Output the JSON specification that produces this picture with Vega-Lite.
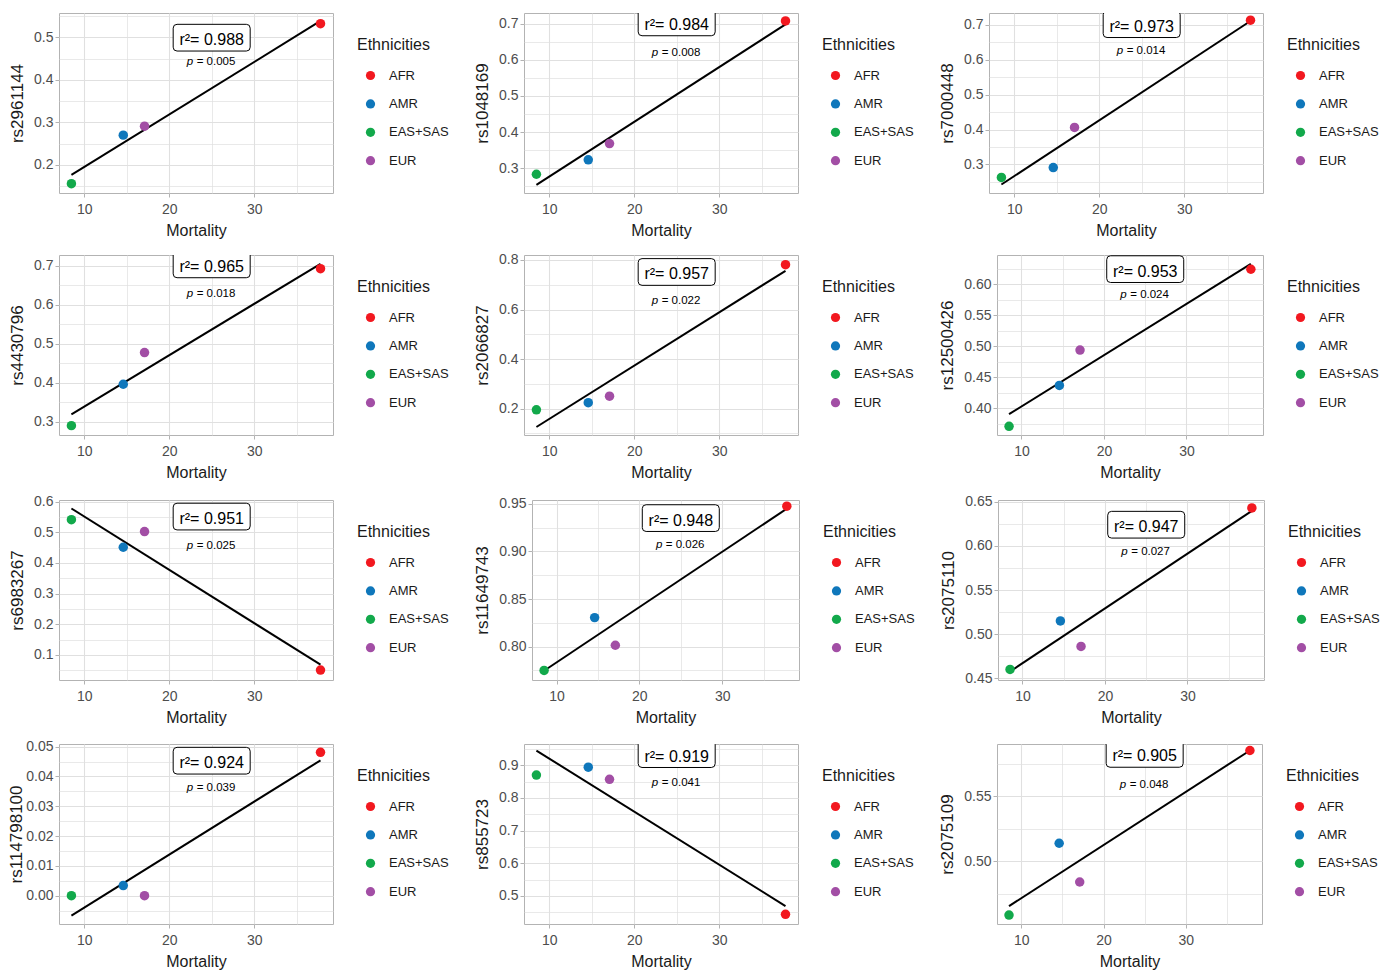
{
"$schema": "https://vega.github.io/schema/vega-lite/v6.json",
"padding": {"left": 7, "top": 8, "right": 2, "bottom": 0},
"datasets": {
"pts": [
{"snp":"rs2961144","eth":"AFR","mortality":37.8,"freq":0.532},{"snp":"rs2961144","eth":"AMR","mortality":14.6,"freq":0.270},{"snp":"rs2961144","eth":"EAS+SAS","mortality":8.5,"freq":0.156},{"snp":"rs2961144","eth":"EUR","mortality":17.1,"freq":0.291},
{"snp":"rs1048169","eth":"AFR","mortality":37.8,"freq":0.708},{"snp":"rs1048169","eth":"AMR","mortality":14.6,"freq":0.323},{"snp":"rs1048169","eth":"EAS+SAS","mortality":8.5,"freq":0.283},{"snp":"rs1048169","eth":"EUR","mortality":17.1,"freq":0.368},
{"snp":"rs7000448","eth":"AFR","mortality":37.8,"freq":0.7135},{"snp":"rs7000448","eth":"AMR","mortality":14.6,"freq":0.291},{"snp":"rs7000448","eth":"EAS+SAS","mortality":8.5,"freq":0.2625},{"snp":"rs7000448","eth":"EUR","mortality":17.1,"freq":0.406},
{"snp":"rs4430796","eth":"AFR","mortality":37.8,"freq":0.692},{"snp":"rs4430796","eth":"AMR","mortality":14.6,"freq":0.396},{"snp":"rs4430796","eth":"EAS+SAS","mortality":8.5,"freq":0.290},{"snp":"rs4430796","eth":"EUR","mortality":17.1,"freq":0.477},
{"snp":"rs2066827","eth":"AFR","mortality":37.8,"freq":0.781},{"snp":"rs2066827","eth":"AMR","mortality":14.6,"freq":0.224},{"snp":"rs2066827","eth":"EAS+SAS","mortality":8.5,"freq":0.195},{"snp":"rs2066827","eth":"EUR","mortality":17.1,"freq":0.250},
{"snp":"rs12500426","eth":"AFR","mortality":37.8,"freq":0.624},{"snp":"rs12500426","eth":"AMR","mortality":14.6,"freq":0.4365},{"snp":"rs12500426","eth":"EAS+SAS","mortality":8.5,"freq":0.3705},{"snp":"rs12500426","eth":"EUR","mortality":17.1,"freq":0.4935},
{"snp":"rs6983267","eth":"AFR","mortality":37.8,"freq":0.051},{"snp":"rs6983267","eth":"AMR","mortality":14.6,"freq":0.451},{"snp":"rs6983267","eth":"EAS+SAS","mortality":8.5,"freq":0.541},{"snp":"rs6983267","eth":"EUR","mortality":17.1,"freq":0.502},
{"snp":"rs11649743","eth":"AFR","mortality":37.8,"freq":0.9475},{"snp":"rs11649743","eth":"AMR","mortality":14.6,"freq":0.8305},{"snp":"rs11649743","eth":"EAS+SAS","mortality":8.5,"freq":0.775},{"snp":"rs11649743","eth":"EUR","mortality":17.1,"freq":0.8015},
{"snp":"rs2075110","eth":"AFR","mortality":37.8,"freq":0.643},{"snp":"rs2075110","eth":"AMR","mortality":14.6,"freq":0.515},{"snp":"rs2075110","eth":"EAS+SAS","mortality":8.5,"freq":0.460},{"snp":"rs2075110","eth":"EUR","mortality":17.1,"freq":0.486},
{"snp":"rs114798100","eth":"AFR","mortality":37.8,"freq":0.0481},{"snp":"rs114798100","eth":"AMR","mortality":14.6,"freq":0.0034},{"snp":"rs114798100","eth":"EAS+SAS","mortality":8.5,"freq":0.0},{"snp":"rs114798100","eth":"EUR","mortality":17.1,"freq":0.0},
{"snp":"rs855723","eth":"AFR","mortality":37.8,"freq":0.4436},{"snp":"rs855723","eth":"AMR","mortality":14.6,"freq":0.894},{"snp":"rs855723","eth":"EAS+SAS","mortality":8.5,"freq":0.870},{"snp":"rs855723","eth":"EUR","mortality":17.1,"freq":0.857},
{"snp":"rs2075109","eth":"AFR","mortality":37.8,"freq":0.585},{"snp":"rs2075109","eth":"AMR","mortality":14.6,"freq":0.5137},{"snp":"rs2075109","eth":"EAS+SAS","mortality":8.5,"freq":0.4585},{"snp":"rs2075109","eth":"EUR","mortality":17.1,"freq":0.4839}
],
"ann": [
{"snp":"rs2961144","r2":"r²= 0.988","p":"= 0.005"},
{"snp":"rs1048169","r2":"r²= 0.984","p":"= 0.008"},
{"snp":"rs7000448","r2":"r²= 0.973","p":"= 0.014"},
{"snp":"rs4430796","r2":"r²= 0.965","p":"= 0.018"},
{"snp":"rs2066827","r2":"r²= 0.957","p":"= 0.022"},
{"snp":"rs12500426","r2":"r²= 0.953","p":"= 0.024"},
{"snp":"rs6983267","r2":"r²= 0.951","p":"= 0.025"},
{"snp":"rs11649743","r2":"r²= 0.948","p":"= 0.026"},
{"snp":"rs2075110","r2":"r²= 0.947","p":"= 0.027"},
{"snp":"rs114798100","r2":"r²= 0.924","p":"= 0.039"},
{"snp":"rs855723","r2":"r²= 0.919","p":"= 0.041"},
{"snp":"rs2075109","r2":"r²= 0.905","p":"= 0.048"}
]
},
"spacing": 13,
"resolve": {"scale": {"color": "independent"}, "legend": {"color": "independent"}},
"vconcat": [
{"spacing": 23, "resolve": {"scale": {"color": "independent"}, "legend": {"color": "independent"}}, "hconcat": [
{"width": 274, "height": 180, "layer": [
 {"data": {"name": "pts"}, "transform": [{"filter": "datum.snp === 'rs2961144'"}, {"regression": "freq", "on": "mortality"}], "mark": {"type": "line", "color": "black", "strokeWidth": 2},
  "encoding": {"x": {"field": "mortality", "type": "quantitative", "title": "Mortality", "scale": {"domain": [7.04, 39.27], "nice": false, "zero": false}, "axis": {"labelOverlap": false, "tickCount": 100, "format": "d", "values": [10,15,20,25,30,35], "labelExpr": "datum.value % 10 !== 0 ? '' : datum.label", "gridWidth": {"condition": {"test": "datum.value % 10 !== 0", "value": 0.7}, "value": 1.1}, "tickOpacity": {"condition": {"test": "datum.value % 10 !== 0", "value": 0}, "value": 1}}},
   "y": {"field": "freq", "type": "quantitative", "title": "rs2961144", "scale": {"domain": [0.134, 0.557], "nice": false, "zero": false}, "axis": {"labelOverlap": false, "tickCount": 100, "values": [0.15,0.2,0.25,0.3,0.35,0.4,0.45,0.5,0.55], "format": ".1f", "labelExpr": "round(datum.value*100) % 10 !== 0 ? '' : datum.label", "gridWidth": {"condition": {"test": "round(datum.value*100) % 10 !== 0", "value": 0.7}, "value": 1.1}, "tickOpacity": {"condition": {"test": "round(datum.value*100) % 10 !== 0", "value": 0}, "value": 1}}}}},
 {"data": {"name": "pts"}, "transform": [{"filter": "datum.snp === 'rs2961144'"}], "mark": {"type": "point", "filled": true, "size": 90, "opacity": 1},
  "encoding": {"x": {"field": "mortality", "type": "quantitative", "title": "Mortality"}, "y": {"field": "freq", "type": "quantitative", "title": "rs2961144"},
   "color": {"field": "eth", "type": "nominal", "title": "Ethnicities", "scale": {"domain": ["AFR","AMR","EAS+SAS","EUR"], "range": ["#F2181F","#0F77BB","#12A94B","#A24EA5"]}, "legend": {"orient": "none", "legendX": 298, "legendY": 24}}}},
 {"data": {"name": "ann"}, "transform": [{"filter": "datum.snp === 'rs2961144'"}], "mark": {"type": "point", "shape": "M-0.9,-0.347L0.9,-0.347Q1,-0.347 1,-0.247L1,0.247Q1,0.347 0.9,0.347L-0.9,0.347Q-1,0.347 -1,0.247L-1,-0.247Q-1,-0.347 -0.9,-0.347Z", "size": 5929, "filled": true, "fill": "white", "stroke": "black", "strokeWidth": 1, "opacity": 1, "clip": true},
  "encoding": {"x": {"datum": 25, "type": "quantitative", "title": "Mortality"}, "y": {"datum": 0.499, "type": "quantitative", "title": "rs2961144"}}},
 {"data": {"name": "ann"}, "transform": [{"filter": "datum.snp === 'rs2961144'"}], "mark": {"type": "text", "fontSize": 16, "dy": 2.5, "color": "black"},
  "encoding": {"x": {"datum": 25, "type": "quantitative", "title": "Mortality"}, "y": {"datum": 0.499, "type": "quantitative", "title": "rs2961144"}, "text": {"field": "r2"}}},
 {"data": {"name": "ann"}, "transform": [{"filter": "datum.snp === 'rs2961144'"}], "mark": {"type": "text", "text": "p", "fontStyle": "italic", "fontSize": 11.5, "align": "right", "dx": -18.5, "color": "black"},
  "encoding": {"x": {"datum": 25, "type": "quantitative", "title": "Mortality"}, "y": {"datum": 0.441, "type": "quantitative", "title": "rs2961144"}}},
 {"data": {"name": "ann"}, "transform": [{"filter": "datum.snp === 'rs2961144'"}], "mark": {"type": "text", "fontSize": 11.5, "align": "left", "dx": -15, "color": "black"},
  "encoding": {"x": {"datum": 25, "type": "quantitative", "title": "Mortality"}, "y": {"datum": 0.441, "type": "quantitative", "title": "rs2961144"}, "text": {"field": "p"}}}
]},
{"width": 274, "height": 180, "layer": [
 {"data": {"name": "pts"}, "transform": [{"filter": "datum.snp === 'rs1048169'"}, {"regression": "freq", "on": "mortality"}], "mark": {"type": "line", "color": "black", "strokeWidth": 2},
  "encoding": {"x": {"field": "mortality", "type": "quantitative", "title": "Mortality", "scale": {"domain": [7.04, 39.27], "nice": false, "zero": false}, "axis": {"labelOverlap": false, "tickCount": 100, "format": "d", "values": [10,15,20,25,30,35], "labelExpr": "datum.value % 10 !== 0 ? '' : datum.label", "gridWidth": {"condition": {"test": "datum.value % 10 !== 0", "value": 0.7}, "value": 1.1}, "tickOpacity": {"condition": {"test": "datum.value % 10 !== 0", "value": 0}, "value": 1}}},
   "y": {"field": "freq", "type": "quantitative", "title": "rs1048169", "scale": {"domain": [0.231, 0.730], "nice": false, "zero": false}, "axis": {"labelOverlap": false, "tickCount": 100, "values": [0.25,0.3,0.35,0.4,0.45,0.5,0.55,0.6,0.65,0.7], "format": ".1f", "labelExpr": "round(datum.value*100) % 10 !== 0 ? '' : datum.label", "gridWidth": {"condition": {"test": "round(datum.value*100) % 10 !== 0", "value": 0.7}, "value": 1.1}, "tickOpacity": {"condition": {"test": "round(datum.value*100) % 10 !== 0", "value": 0}, "value": 1}}}}},
 {"data": {"name": "pts"}, "transform": [{"filter": "datum.snp === 'rs1048169'"}], "mark": {"type": "point", "filled": true, "size": 90, "opacity": 1},
  "encoding": {"x": {"field": "mortality", "type": "quantitative", "title": "Mortality"}, "y": {"field": "freq", "type": "quantitative", "title": "rs1048169"},
   "color": {"field": "eth", "type": "nominal", "title": "Ethnicities", "scale": {"domain": ["AFR","AMR","EAS+SAS","EUR"], "range": ["#F2181F","#0F77BB","#12A94B","#A24EA5"]}, "legend": {"orient": "none", "legendX": 298, "legendY": 24}}}},
 {"data": {"name": "ann"}, "transform": [{"filter": "datum.snp === 'rs1048169'"}], "mark": {"type": "point", "shape": "M-0.9,-0.347L0.9,-0.347Q1,-0.347 1,-0.247L1,0.247Q1,0.347 0.9,0.347L-0.9,0.347Q-1,0.347 -1,0.247L-1,-0.247Q-1,-0.347 -0.9,-0.347Z", "size": 5929, "filled": true, "fill": "white", "stroke": "black", "strokeWidth": 1, "opacity": 1, "clip": true},
  "encoding": {"x": {"datum": 25, "type": "quantitative", "title": "Mortality"}, "y": {"datum": 0.704, "type": "quantitative", "title": "rs1048169"}}},
 {"data": {"name": "ann"}, "transform": [{"filter": "datum.snp === 'rs1048169'"}], "mark": {"type": "text", "fontSize": 16, "dy": 2.5, "color": "black"},
  "encoding": {"x": {"datum": 25, "type": "quantitative", "title": "Mortality"}, "y": {"datum": 0.704, "type": "quantitative", "title": "rs1048169"}, "text": {"field": "r2"}}},
 {"data": {"name": "ann"}, "transform": [{"filter": "datum.snp === 'rs1048169'"}], "mark": {"type": "text", "text": "p", "fontStyle": "italic", "fontSize": 11.5, "align": "right", "dx": -18.5, "color": "black"},
  "encoding": {"x": {"datum": 25, "type": "quantitative", "title": "Mortality"}, "y": {"datum": 0.619, "type": "quantitative", "title": "rs1048169"}}},
 {"data": {"name": "ann"}, "transform": [{"filter": "datum.snp === 'rs1048169'"}], "mark": {"type": "text", "fontSize": 11.5, "align": "left", "dx": -15, "color": "black"},
  "encoding": {"x": {"datum": 25, "type": "quantitative", "title": "Mortality"}, "y": {"datum": 0.619, "type": "quantitative", "title": "rs1048169"}, "text": {"field": "p"}}}
]},
{"width": 274, "height": 180, "layer": [
 {"data": {"name": "pts"}, "transform": [{"filter": "datum.snp === 'rs7000448'"}, {"regression": "freq", "on": "mortality"}], "mark": {"type": "line", "color": "black", "strokeWidth": 2},
  "encoding": {"x": {"field": "mortality", "type": "quantitative", "title": "Mortality", "scale": {"domain": [7.04, 39.27], "nice": false, "zero": false}, "axis": {"labelOverlap": false, "tickCount": 100, "format": "d", "values": [10,15,20,25,30,35], "labelExpr": "datum.value % 10 !== 0 ? '' : datum.label", "gridWidth": {"condition": {"test": "datum.value % 10 !== 0", "value": 0.7}, "value": 1.1}, "tickOpacity": {"condition": {"test": "datum.value % 10 !== 0", "value": 0}, "value": 1}}},
   "y": {"field": "freq", "type": "quantitative", "title": "rs7000448", "scale": {"domain": [0.218, 0.734], "nice": false, "zero": false}, "axis": {"labelOverlap": false, "tickCount": 100, "values": [0.25,0.3,0.35,0.4,0.45,0.5,0.55,0.6,0.65,0.7], "format": ".1f", "labelExpr": "round(datum.value*100) % 10 !== 0 ? '' : datum.label", "gridWidth": {"condition": {"test": "round(datum.value*100) % 10 !== 0", "value": 0.7}, "value": 1.1}, "tickOpacity": {"condition": {"test": "round(datum.value*100) % 10 !== 0", "value": 0}, "value": 1}}}}},
 {"data": {"name": "pts"}, "transform": [{"filter": "datum.snp === 'rs7000448'"}], "mark": {"type": "point", "filled": true, "size": 90, "opacity": 1},
  "encoding": {"x": {"field": "mortality", "type": "quantitative", "title": "Mortality"}, "y": {"field": "freq", "type": "quantitative", "title": "rs7000448"},
   "color": {"field": "eth", "type": "nominal", "title": "Ethnicities", "scale": {"domain": ["AFR","AMR","EAS+SAS","EUR"], "range": ["#F2181F","#0F77BB","#12A94B","#A24EA5"]}, "legend": {"orient": "none", "legendX": 298, "legendY": 24}}}},
 {"data": {"name": "ann"}, "transform": [{"filter": "datum.snp === 'rs7000448'"}], "mark": {"type": "point", "shape": "M-0.9,-0.347L0.9,-0.347Q1,-0.347 1,-0.247L1,0.247Q1,0.347 0.9,0.347L-0.9,0.347Q-1,0.347 -1,0.247L-1,-0.247Q-1,-0.347 -0.9,-0.347Z", "size": 5929, "filled": true, "fill": "white", "stroke": "black", "strokeWidth": 1, "opacity": 1, "clip": true},
  "encoding": {"x": {"datum": 25, "type": "quantitative", "title": "Mortality"}, "y": {"datum": 0.702, "type": "quantitative", "title": "rs7000448"}}},
 {"data": {"name": "ann"}, "transform": [{"filter": "datum.snp === 'rs7000448'"}], "mark": {"type": "text", "fontSize": 16, "dy": 2.5, "color": "black"},
  "encoding": {"x": {"datum": 25, "type": "quantitative", "title": "Mortality"}, "y": {"datum": 0.702, "type": "quantitative", "title": "rs7000448"}, "text": {"field": "r2"}}},
 {"data": {"name": "ann"}, "transform": [{"filter": "datum.snp === 'rs7000448'"}], "mark": {"type": "text", "text": "p", "fontStyle": "italic", "fontSize": 11.5, "align": "right", "dx": -18.5, "color": "black"},
  "encoding": {"x": {"datum": 25, "type": "quantitative", "title": "Mortality"}, "y": {"datum": 0.626, "type": "quantitative", "title": "rs7000448"}}},
 {"data": {"name": "ann"}, "transform": [{"filter": "datum.snp === 'rs7000448'"}], "mark": {"type": "text", "fontSize": 11.5, "align": "left", "dx": -15, "color": "black"},
  "encoding": {"x": {"datum": 25, "type": "quantitative", "title": "Mortality"}, "y": {"datum": 0.626, "type": "quantitative", "title": "rs7000448"}, "text": {"field": "p"}}}
]}
]},
{"spacing": 23, "resolve": {"scale": {"color": "independent"}, "legend": {"color": "independent"}}, "hconcat": [
{"width": 274, "height": 180, "layer": [
 {"data": {"name": "pts"}, "transform": [{"filter": "datum.snp === 'rs4430796'"}, {"regression": "freq", "on": "mortality"}], "mark": {"type": "line", "color": "black", "strokeWidth": 2},
  "encoding": {"x": {"field": "mortality", "type": "quantitative", "title": "Mortality", "scale": {"domain": [7.04, 39.27], "nice": false, "zero": false}, "axis": {"labelOverlap": false, "tickCount": 100, "format": "d", "values": [10,15,20,25,30,35], "labelExpr": "datum.value % 10 !== 0 ? '' : datum.label", "gridWidth": {"condition": {"test": "datum.value % 10 !== 0", "value": 0.7}, "value": 1.1}, "tickOpacity": {"condition": {"test": "datum.value % 10 !== 0", "value": 0}, "value": 1}}},
   "y": {"field": "freq", "type": "quantitative", "title": "rs4430796", "scale": {"domain": [0.266, 0.727], "nice": false, "zero": false}, "axis": {"labelOverlap": false, "tickCount": 100, "values": [0.3,0.35,0.4,0.45,0.5,0.55,0.6,0.65,0.7], "format": ".1f", "labelExpr": "round(datum.value*100) % 10 !== 0 ? '' : datum.label", "gridWidth": {"condition": {"test": "round(datum.value*100) % 10 !== 0", "value": 0.7}, "value": 1.1}, "tickOpacity": {"condition": {"test": "round(datum.value*100) % 10 !== 0", "value": 0}, "value": 1}}}}},
 {"data": {"name": "pts"}, "transform": [{"filter": "datum.snp === 'rs4430796'"}], "mark": {"type": "point", "filled": true, "size": 90, "opacity": 1},
  "encoding": {"x": {"field": "mortality", "type": "quantitative", "title": "Mortality"}, "y": {"field": "freq", "type": "quantitative", "title": "rs4430796"},
   "color": {"field": "eth", "type": "nominal", "title": "Ethnicities", "scale": {"domain": ["AFR","AMR","EAS+SAS","EUR"], "range": ["#F2181F","#0F77BB","#12A94B","#A24EA5"]}, "legend": {"orient": "none", "legendX": 298, "legendY": 24}}}},
 {"data": {"name": "ann"}, "transform": [{"filter": "datum.snp === 'rs4430796'"}], "mark": {"type": "point", "shape": "M-0.9,-0.347L0.9,-0.347Q1,-0.347 1,-0.247L1,0.247Q1,0.347 0.9,0.347L-0.9,0.347Q-1,0.347 -1,0.247L-1,-0.247Q-1,-0.347 -0.9,-0.347Z", "size": 5929, "filled": true, "fill": "white", "stroke": "black", "strokeWidth": 1, "opacity": 1, "clip": true},
  "encoding": {"x": {"datum": 25, "type": "quantitative", "title": "Mortality"}, "y": {"datum": 0.703, "type": "quantitative", "title": "rs4430796"}}},
 {"data": {"name": "ann"}, "transform": [{"filter": "datum.snp === 'rs4430796'"}], "mark": {"type": "text", "fontSize": 16, "dy": 2.5, "color": "black"},
  "encoding": {"x": {"datum": 25, "type": "quantitative", "title": "Mortality"}, "y": {"datum": 0.703, "type": "quantitative", "title": "rs4430796"}, "text": {"field": "r2"}}},
 {"data": {"name": "ann"}, "transform": [{"filter": "datum.snp === 'rs4430796'"}], "mark": {"type": "text", "text": "p", "fontStyle": "italic", "fontSize": 11.5, "align": "right", "dx": -18.5, "color": "black"},
  "encoding": {"x": {"datum": 25, "type": "quantitative", "title": "Mortality"}, "y": {"datum": 0.6265, "type": "quantitative", "title": "rs4430796"}}},
 {"data": {"name": "ann"}, "transform": [{"filter": "datum.snp === 'rs4430796'"}], "mark": {"type": "text", "fontSize": 11.5, "align": "left", "dx": -15, "color": "black"},
  "encoding": {"x": {"datum": 25, "type": "quantitative", "title": "Mortality"}, "y": {"datum": 0.6265, "type": "quantitative", "title": "rs4430796"}, "text": {"field": "p"}}}
]},
{"width": 274, "height": 180, "layer": [
 {"data": {"name": "pts"}, "transform": [{"filter": "datum.snp === 'rs2066827'"}, {"regression": "freq", "on": "mortality"}], "mark": {"type": "line", "color": "black", "strokeWidth": 2},
  "encoding": {"x": {"field": "mortality", "type": "quantitative", "title": "Mortality", "scale": {"domain": [7.04, 39.27], "nice": false, "zero": false}, "axis": {"labelOverlap": false, "tickCount": 100, "format": "d", "values": [10,15,20,25,30,35], "labelExpr": "datum.value % 10 !== 0 ? '' : datum.label", "gridWidth": {"condition": {"test": "datum.value % 10 !== 0", "value": 0.7}, "value": 1.1}, "tickOpacity": {"condition": {"test": "datum.value % 10 !== 0", "value": 0}, "value": 1}}},
   "y": {"field": "freq", "type": "quantitative", "title": "rs2066827", "scale": {"domain": [0.0935, 0.820], "nice": false, "zero": false}, "axis": {"labelOverlap": false, "tickCount": 100, "values": [0.1,0.2,0.3,0.4,0.5,0.6,0.7,0.8], "format": ".1f", "labelExpr": "round(datum.value*10) % 2 !== 0 ? '' : datum.label", "gridWidth": {"condition": {"test": "round(datum.value*10) % 2 !== 0", "value": 0.7}, "value": 1.1}, "tickOpacity": {"condition": {"test": "round(datum.value*10) % 2 !== 0", "value": 0}, "value": 1}}}}},
 {"data": {"name": "pts"}, "transform": [{"filter": "datum.snp === 'rs2066827'"}], "mark": {"type": "point", "filled": true, "size": 90, "opacity": 1},
  "encoding": {"x": {"field": "mortality", "type": "quantitative", "title": "Mortality"}, "y": {"field": "freq", "type": "quantitative", "title": "rs2066827"},
   "color": {"field": "eth", "type": "nominal", "title": "Ethnicities", "scale": {"domain": ["AFR","AMR","EAS+SAS","EUR"], "range": ["#F2181F","#0F77BB","#12A94B","#A24EA5"]}, "legend": {"orient": "none", "legendX": 298, "legendY": 24}}}},
 {"data": {"name": "ann"}, "transform": [{"filter": "datum.snp === 'rs2066827'"}], "mark": {"type": "point", "shape": "M-0.9,-0.347L0.9,-0.347Q1,-0.347 1,-0.247L1,0.247Q1,0.347 0.9,0.347L-0.9,0.347Q-1,0.347 -1,0.247L-1,-0.247Q-1,-0.347 -0.9,-0.347Z", "size": 5929, "filled": true, "fill": "white", "stroke": "black", "strokeWidth": 1, "opacity": 1, "clip": true},
  "encoding": {"x": {"datum": 25, "type": "quantitative", "title": "Mortality"}, "y": {"datum": 0.7515, "type": "quantitative", "title": "rs2066827"}}},
 {"data": {"name": "ann"}, "transform": [{"filter": "datum.snp === 'rs2066827'"}], "mark": {"type": "text", "fontSize": 16, "dy": 2.5, "color": "black"},
  "encoding": {"x": {"datum": 25, "type": "quantitative", "title": "Mortality"}, "y": {"datum": 0.7515, "type": "quantitative", "title": "rs2066827"}, "text": {"field": "r2"}}},
 {"data": {"name": "ann"}, "transform": [{"filter": "datum.snp === 'rs2066827'"}], "mark": {"type": "text", "text": "p", "fontStyle": "italic", "fontSize": 11.5, "align": "right", "dx": -18.5, "color": "black"},
  "encoding": {"x": {"datum": 25, "type": "quantitative", "title": "Mortality"}, "y": {"datum": 0.636, "type": "quantitative", "title": "rs2066827"}}},
 {"data": {"name": "ann"}, "transform": [{"filter": "datum.snp === 'rs2066827'"}], "mark": {"type": "text", "fontSize": 11.5, "align": "left", "dx": -15, "color": "black"},
  "encoding": {"x": {"datum": 25, "type": "quantitative", "title": "Mortality"}, "y": {"datum": 0.636, "type": "quantitative", "title": "rs2066827"}, "text": {"field": "p"}}}
]},
{"width": 266, "height": 180, "layer": [
 {"data": {"name": "pts"}, "transform": [{"filter": "datum.snp === 'rs12500426'"}, {"regression": "freq", "on": "mortality"}], "mark": {"type": "line", "color": "black", "strokeWidth": 2},
  "encoding": {"x": {"field": "mortality", "type": "quantitative", "title": "Mortality", "scale": {"domain": [7.04, 39.27], "nice": false, "zero": false}, "axis": {"labelOverlap": false, "tickCount": 100, "format": "d", "values": [10,15,20,25,30,35], "labelExpr": "datum.value % 10 !== 0 ? '' : datum.label", "gridWidth": {"condition": {"test": "datum.value % 10 !== 0", "value": 0.7}, "value": 1.1}, "tickOpacity": {"condition": {"test": "datum.value % 10 !== 0", "value": 0}, "value": 1}}},
   "y": {"field": "freq", "type": "quantitative", "title": "rs12500426", "scale": {"domain": [0.3565, 0.647], "nice": false, "zero": false}, "axis": {"labelOverlap": false, "tickCount": 100, "values": [0.375,0.4,0.425,0.45,0.475,0.5,0.525,0.55,0.575,0.6,0.625], "format": ".2f", "labelExpr": "round(datum.value*1000) % 50 !== 0 ? '' : datum.label", "gridWidth": {"condition": {"test": "round(datum.value*1000) % 50 !== 0", "value": 0.7}, "value": 1.1}, "tickOpacity": {"condition": {"test": "round(datum.value*1000) % 50 !== 0", "value": 0}, "value": 1}}}}},
 {"data": {"name": "pts"}, "transform": [{"filter": "datum.snp === 'rs12500426'"}], "mark": {"type": "point", "filled": true, "size": 90, "opacity": 1},
  "encoding": {"x": {"field": "mortality", "type": "quantitative", "title": "Mortality"}, "y": {"field": "freq", "type": "quantitative", "title": "rs12500426"},
   "color": {"field": "eth", "type": "nominal", "title": "Ethnicities", "scale": {"domain": ["AFR","AMR","EAS+SAS","EUR"], "range": ["#F2181F","#0F77BB","#12A94B","#A24EA5"]}, "legend": {"orient": "none", "legendX": 290, "legendY": 24}}}},
 {"data": {"name": "ann"}, "transform": [{"filter": "datum.snp === 'rs12500426'"}], "mark": {"type": "point", "shape": "M-0.9,-0.347L0.9,-0.347Q1,-0.347 1,-0.247L1,0.247Q1,0.347 0.9,0.347L-0.9,0.347Q-1,0.347 -1,0.247L-1,-0.247Q-1,-0.347 -0.9,-0.347Z", "size": 5929, "filled": true, "fill": "white", "stroke": "black", "strokeWidth": 1, "opacity": 1, "clip": true},
  "encoding": {"x": {"datum": 25, "type": "quantitative", "title": "Mortality"}, "y": {"datum": 0.6242, "type": "quantitative", "title": "rs12500426"}}},
 {"data": {"name": "ann"}, "transform": [{"filter": "datum.snp === 'rs12500426'"}], "mark": {"type": "text", "fontSize": 16, "dy": 2.5, "color": "black"},
  "encoding": {"x": {"datum": 25, "type": "quantitative", "title": "Mortality"}, "y": {"datum": 0.6242, "type": "quantitative", "title": "rs12500426"}, "text": {"field": "r2"}}},
 {"data": {"name": "ann"}, "transform": [{"filter": "datum.snp === 'rs12500426'"}], "mark": {"type": "text", "text": "p", "fontStyle": "italic", "fontSize": 11.5, "align": "right", "dx": -18.5, "color": "black"},
  "encoding": {"x": {"datum": 25, "type": "quantitative", "title": "Mortality"}, "y": {"datum": 0.5828, "type": "quantitative", "title": "rs12500426"}}},
 {"data": {"name": "ann"}, "transform": [{"filter": "datum.snp === 'rs12500426'"}], "mark": {"type": "text", "fontSize": 11.5, "align": "left", "dx": -15, "color": "black"},
  "encoding": {"x": {"datum": 25, "type": "quantitative", "title": "Mortality"}, "y": {"datum": 0.5828, "type": "quantitative", "title": "rs12500426"}, "text": {"field": "p"}}}
]}
]},
{"spacing": 23, "resolve": {"scale": {"color": "independent"}, "legend": {"color": "independent"}}, "hconcat": [
{"width": 274, "height": 180, "layer": [
 {"data": {"name": "pts"}, "transform": [{"filter": "datum.snp === 'rs6983267'"}, {"regression": "freq", "on": "mortality"}], "mark": {"type": "line", "color": "black", "strokeWidth": 2},
  "encoding": {"x": {"field": "mortality", "type": "quantitative", "title": "Mortality", "scale": {"domain": [7.04, 39.27], "nice": false, "zero": false}, "axis": {"labelOverlap": false, "tickCount": 100, "format": "d", "values": [10,15,20,25,30,35], "labelExpr": "datum.value % 10 !== 0 ? '' : datum.label", "gridWidth": {"condition": {"test": "datum.value % 10 !== 0", "value": 0.7}, "value": 1.1}, "tickOpacity": {"condition": {"test": "datum.value % 10 !== 0", "value": 0}, "value": 1}}},
   "y": {"field": "freq", "type": "quantitative", "title": "rs6983267", "scale": {"domain": [0.0185, 0.605], "nice": false, "zero": false}, "axis": {"labelOverlap": false, "tickCount": 100, "values": [0.05,0.1,0.15,0.2,0.25,0.3,0.35,0.4,0.45,0.5,0.55,0.6], "format": ".1f", "labelExpr": "round(datum.value*100) % 10 !== 0 ? '' : datum.label", "gridWidth": {"condition": {"test": "round(datum.value*100) % 10 !== 0", "value": 0.7}, "value": 1.1}, "tickOpacity": {"condition": {"test": "round(datum.value*100) % 10 !== 0", "value": 0}, "value": 1}}}}},
 {"data": {"name": "pts"}, "transform": [{"filter": "datum.snp === 'rs6983267'"}], "mark": {"type": "point", "filled": true, "size": 90, "opacity": 1},
  "encoding": {"x": {"field": "mortality", "type": "quantitative", "title": "Mortality"}, "y": {"field": "freq", "type": "quantitative", "title": "rs6983267"},
   "color": {"field": "eth", "type": "nominal", "title": "Ethnicities", "scale": {"domain": ["AFR","AMR","EAS+SAS","EUR"], "range": ["#F2181F","#0F77BB","#12A94B","#A24EA5"]}, "legend": {"orient": "none", "legendX": 298, "legendY": 24}}}},
 {"data": {"name": "ann"}, "transform": [{"filter": "datum.snp === 'rs6983267'"}], "mark": {"type": "point", "shape": "M-0.9,-0.347L0.9,-0.347Q1,-0.347 1,-0.247L1,0.247Q1,0.347 0.9,0.347L-0.9,0.347Q-1,0.347 -1,0.247L-1,-0.247Q-1,-0.347 -0.9,-0.347Z", "size": 5929, "filled": true, "fill": "white", "stroke": "black", "strokeWidth": 1, "opacity": 1, "clip": true},
  "encoding": {"x": {"datum": 25, "type": "quantitative", "title": "Mortality"}, "y": {"datum": 0.551, "type": "quantitative", "title": "rs6983267"}}},
 {"data": {"name": "ann"}, "transform": [{"filter": "datum.snp === 'rs6983267'"}], "mark": {"type": "text", "fontSize": 16, "dy": 2.5, "color": "black"},
  "encoding": {"x": {"datum": 25, "type": "quantitative", "title": "Mortality"}, "y": {"datum": 0.551, "type": "quantitative", "title": "rs6983267"}, "text": {"field": "r2"}}},
 {"data": {"name": "ann"}, "transform": [{"filter": "datum.snp === 'rs6983267'"}], "mark": {"type": "text", "text": "p", "fontStyle": "italic", "fontSize": 11.5, "align": "right", "dx": -18.5, "color": "black"},
  "encoding": {"x": {"datum": 25, "type": "quantitative", "title": "Mortality"}, "y": {"datum": 0.454, "type": "quantitative", "title": "rs6983267"}}},
 {"data": {"name": "ann"}, "transform": [{"filter": "datum.snp === 'rs6983267'"}], "mark": {"type": "text", "fontSize": 11.5, "align": "left", "dx": -15, "color": "black"},
  "encoding": {"x": {"datum": 25, "type": "quantitative", "title": "Mortality"}, "y": {"datum": 0.454, "type": "quantitative", "title": "rs6983267"}, "text": {"field": "p"}}}
]},
{"width": 267, "height": 180, "layer": [
 {"data": {"name": "pts"}, "transform": [{"filter": "datum.snp === 'rs11649743'"}, {"regression": "freq", "on": "mortality"}], "mark": {"type": "line", "color": "black", "strokeWidth": 2},
  "encoding": {"x": {"field": "mortality", "type": "quantitative", "title": "Mortality", "scale": {"domain": [7.04, 39.27], "nice": false, "zero": false}, "axis": {"labelOverlap": false, "tickCount": 100, "format": "d", "values": [10,15,20,25,30,35], "labelExpr": "datum.value % 10 !== 0 ? '' : datum.label", "gridWidth": {"condition": {"test": "datum.value % 10 !== 0", "value": 0.7}, "value": 1.1}, "tickOpacity": {"condition": {"test": "datum.value % 10 !== 0", "value": 0}, "value": 1}}},
   "y": {"field": "freq", "type": "quantitative", "title": "rs11649743", "scale": {"domain": [0.765, 0.954], "nice": false, "zero": false}, "axis": {"labelOverlap": false, "tickCount": 100, "values": [0.775,0.8,0.825,0.85,0.875,0.9,0.925,0.95], "format": ".2f", "labelExpr": "round(datum.value*1000) % 50 !== 0 ? '' : datum.label", "gridWidth": {"condition": {"test": "round(datum.value*1000) % 50 !== 0", "value": 0.7}, "value": 1.1}, "tickOpacity": {"condition": {"test": "round(datum.value*1000) % 50 !== 0", "value": 0}, "value": 1}}}}},
 {"data": {"name": "pts"}, "transform": [{"filter": "datum.snp === 'rs11649743'"}], "mark": {"type": "point", "filled": true, "size": 90, "opacity": 1},
  "encoding": {"x": {"field": "mortality", "type": "quantitative", "title": "Mortality"}, "y": {"field": "freq", "type": "quantitative", "title": "rs11649743"},
   "color": {"field": "eth", "type": "nominal", "title": "Ethnicities", "scale": {"domain": ["AFR","AMR","EAS+SAS","EUR"], "range": ["#F2181F","#0F77BB","#12A94B","#A24EA5"]}, "legend": {"orient": "none", "legendX": 291, "legendY": 24}}}},
 {"data": {"name": "ann"}, "transform": [{"filter": "datum.snp === 'rs11649743'"}], "mark": {"type": "point", "shape": "M-0.9,-0.347L0.9,-0.347Q1,-0.347 1,-0.247L1,0.247Q1,0.347 0.9,0.347L-0.9,0.347Q-1,0.347 -1,0.247L-1,-0.247Q-1,-0.347 -0.9,-0.347Z", "size": 5929, "filled": true, "fill": "white", "stroke": "black", "strokeWidth": 1, "opacity": 1, "clip": true},
  "encoding": {"x": {"datum": 25, "type": "quantitative", "title": "Mortality"}, "y": {"datum": 0.935, "type": "quantitative", "title": "rs11649743"}}},
 {"data": {"name": "ann"}, "transform": [{"filter": "datum.snp === 'rs11649743'"}], "mark": {"type": "text", "fontSize": 16, "dy": 2.5, "color": "black"},
  "encoding": {"x": {"datum": 25, "type": "quantitative", "title": "Mortality"}, "y": {"datum": 0.935, "type": "quantitative", "title": "rs11649743"}, "text": {"field": "r2"}}},
 {"data": {"name": "ann"}, "transform": [{"filter": "datum.snp === 'rs11649743'"}], "mark": {"type": "text", "text": "p", "fontStyle": "italic", "fontSize": 11.5, "align": "right", "dx": -18.5, "color": "black"},
  "encoding": {"x": {"datum": 25, "type": "quantitative", "title": "Mortality"}, "y": {"datum": 0.907, "type": "quantitative", "title": "rs11649743"}}},
 {"data": {"name": "ann"}, "transform": [{"filter": "datum.snp === 'rs11649743'"}], "mark": {"type": "text", "fontSize": 11.5, "align": "left", "dx": -15, "color": "black"},
  "encoding": {"x": {"datum": 25, "type": "quantitative", "title": "Mortality"}, "y": {"datum": 0.907, "type": "quantitative", "title": "rs11649743"}, "text": {"field": "p"}}}
]},
{"width": 266, "height": 180, "layer": [
 {"data": {"name": "pts"}, "transform": [{"filter": "datum.snp === 'rs2075110'"}, {"regression": "freq", "on": "mortality"}], "mark": {"type": "line", "color": "black", "strokeWidth": 2},
  "encoding": {"x": {"field": "mortality", "type": "quantitative", "title": "Mortality", "scale": {"domain": [7.04, 39.27], "nice": false, "zero": false}, "axis": {"labelOverlap": false, "tickCount": 100, "format": "d", "values": [10,15,20,25,30,35], "labelExpr": "datum.value % 10 !== 0 ? '' : datum.label", "gridWidth": {"condition": {"test": "datum.value % 10 !== 0", "value": 0.7}, "value": 1.1}, "tickOpacity": {"condition": {"test": "datum.value % 10 !== 0", "value": 0}, "value": 1}}},
   "y": {"field": "freq", "type": "quantitative", "title": "rs2075110", "scale": {"domain": [0.448, 0.652], "nice": false, "zero": false}, "axis": {"labelOverlap": false, "tickCount": 100, "values": [0.45,0.475,0.5,0.525,0.55,0.575,0.6,0.625,0.65], "format": ".2f", "labelExpr": "round(datum.value*1000) % 50 !== 0 ? '' : datum.label", "gridWidth": {"condition": {"test": "round(datum.value*1000) % 50 !== 0", "value": 0.7}, "value": 1.1}, "tickOpacity": {"condition": {"test": "round(datum.value*1000) % 50 !== 0", "value": 0}, "value": 1}}}}},
 {"data": {"name": "pts"}, "transform": [{"filter": "datum.snp === 'rs2075110'"}], "mark": {"type": "point", "filled": true, "size": 90, "opacity": 1},
  "encoding": {"x": {"field": "mortality", "type": "quantitative", "title": "Mortality"}, "y": {"field": "freq", "type": "quantitative", "title": "rs2075110"},
   "color": {"field": "eth", "type": "nominal", "title": "Ethnicities", "scale": {"domain": ["AFR","AMR","EAS+SAS","EUR"], "range": ["#F2181F","#0F77BB","#12A94B","#A24EA5"]}, "legend": {"orient": "none", "legendX": 290, "legendY": 24}}}},
 {"data": {"name": "ann"}, "transform": [{"filter": "datum.snp === 'rs2075110'"}], "mark": {"type": "point", "shape": "M-0.9,-0.347L0.9,-0.347Q1,-0.347 1,-0.247L1,0.247Q1,0.347 0.9,0.347L-0.9,0.347Q-1,0.347 -1,0.247L-1,-0.247Q-1,-0.347 -0.9,-0.347Z", "size": 5929, "filled": true, "fill": "white", "stroke": "black", "strokeWidth": 1, "opacity": 1, "clip": true},
  "encoding": {"x": {"datum": 25, "type": "quantitative", "title": "Mortality"}, "y": {"datum": 0.624, "type": "quantitative", "title": "rs2075110"}}},
 {"data": {"name": "ann"}, "transform": [{"filter": "datum.snp === 'rs2075110'"}], "mark": {"type": "text", "fontSize": 16, "dy": 2.5, "color": "black"},
  "encoding": {"x": {"datum": 25, "type": "quantitative", "title": "Mortality"}, "y": {"datum": 0.624, "type": "quantitative", "title": "rs2075110"}, "text": {"field": "r2"}}},
 {"data": {"name": "ann"}, "transform": [{"filter": "datum.snp === 'rs2075110'"}], "mark": {"type": "text", "text": "p", "fontStyle": "italic", "fontSize": 11.5, "align": "right", "dx": -18.5, "color": "black"},
  "encoding": {"x": {"datum": 25, "type": "quantitative", "title": "Mortality"}, "y": {"datum": 0.5935, "type": "quantitative", "title": "rs2075110"}}},
 {"data": {"name": "ann"}, "transform": [{"filter": "datum.snp === 'rs2075110'"}], "mark": {"type": "text", "fontSize": 11.5, "align": "left", "dx": -15, "color": "black"},
  "encoding": {"x": {"datum": 25, "type": "quantitative", "title": "Mortality"}, "y": {"datum": 0.5935, "type": "quantitative", "title": "rs2075110"}, "text": {"field": "p"}}}
]}
]},
{"spacing": 23, "resolve": {"scale": {"color": "independent"}, "legend": {"color": "independent"}}, "hconcat": [
{"width": 274, "height": 180, "layer": [
 {"data": {"name": "pts"}, "transform": [{"filter": "datum.snp === 'rs114798100'"}, {"regression": "freq", "on": "mortality"}], "mark": {"type": "line", "color": "black", "strokeWidth": 2},
  "encoding": {"x": {"field": "mortality", "type": "quantitative", "title": "Mortality", "scale": {"domain": [7.04, 39.27], "nice": false, "zero": false}, "axis": {"labelOverlap": false, "tickCount": 100, "format": "d", "values": [10,15,20,25,30,35], "labelExpr": "datum.value % 10 !== 0 ? '' : datum.label", "gridWidth": {"condition": {"test": "datum.value % 10 !== 0", "value": 0.7}, "value": 1.1}, "tickOpacity": {"condition": {"test": "datum.value % 10 !== 0", "value": 0}, "value": 1}}},
   "y": {"field": "freq", "type": "quantitative", "title": "rs114798100", "scale": {"domain": [-0.0095, 0.0509], "nice": false, "zero": false}, "axis": {"labelOverlap": false, "tickCount": 100, "titlePadding": 0, "values": [-0.005,0,0.005,0.01,0.015,0.02,0.025,0.03,0.035,0.04,0.045,0.05], "format": ".2f", "labelExpr": "round(datum.value*1000) % 10 !== 0 ? '' : datum.label", "gridWidth": {"condition": {"test": "round(datum.value*1000) % 10 !== 0", "value": 0.7}, "value": 1.1}, "tickOpacity": {"condition": {"test": "round(datum.value*1000) % 10 !== 0", "value": 0}, "value": 1}}}}},
 {"data": {"name": "pts"}, "transform": [{"filter": "datum.snp === 'rs114798100'"}], "mark": {"type": "point", "filled": true, "size": 90, "opacity": 1},
  "encoding": {"x": {"field": "mortality", "type": "quantitative", "title": "Mortality"}, "y": {"field": "freq", "type": "quantitative", "title": "rs114798100"},
   "color": {"field": "eth", "type": "nominal", "title": "Ethnicities", "scale": {"domain": ["AFR","AMR","EAS+SAS","EUR"], "range": ["#F2181F","#0F77BB","#12A94B","#A24EA5"]}, "legend": {"orient": "none", "legendX": 298, "legendY": 24}}}},
 {"data": {"name": "ann"}, "transform": [{"filter": "datum.snp === 'rs114798100'"}], "mark": {"type": "point", "shape": "M-0.9,-0.347L0.9,-0.347Q1,-0.347 1,-0.247L1,0.247Q1,0.347 0.9,0.347L-0.9,0.347Q-1,0.347 -1,0.247L-1,-0.247Q-1,-0.347 -0.9,-0.347Z", "size": 5929, "filled": true, "fill": "white", "stroke": "black", "strokeWidth": 1, "opacity": 1, "clip": true},
  "encoding": {"x": {"datum": 25, "type": "quantitative", "title": "Mortality"}, "y": {"datum": 0.0453, "type": "quantitative", "title": "rs114798100"}}},
 {"data": {"name": "ann"}, "transform": [{"filter": "datum.snp === 'rs114798100'"}], "mark": {"type": "text", "fontSize": 16, "dy": 2.5, "color": "black"},
  "encoding": {"x": {"datum": 25, "type": "quantitative", "title": "Mortality"}, "y": {"datum": 0.0453, "type": "quantitative", "title": "rs114798100"}, "text": {"field": "r2"}}},
 {"data": {"name": "ann"}, "transform": [{"filter": "datum.snp === 'rs114798100'"}], "mark": {"type": "text", "text": "p", "fontStyle": "italic", "fontSize": 11.5, "align": "right", "dx": -18.5, "color": "black"},
  "encoding": {"x": {"datum": 25, "type": "quantitative", "title": "Mortality"}, "y": {"datum": 0.0361, "type": "quantitative", "title": "rs114798100"}}},
 {"data": {"name": "ann"}, "transform": [{"filter": "datum.snp === 'rs114798100'"}], "mark": {"type": "text", "fontSize": 11.5, "align": "left", "dx": -15, "color": "black"},
  "encoding": {"x": {"datum": 25, "type": "quantitative", "title": "Mortality"}, "y": {"datum": 0.0361, "type": "quantitative", "title": "rs114798100"}, "text": {"field": "p"}}}
]},
{"width": 274, "height": 180, "layer": [
 {"data": {"name": "pts"}, "transform": [{"filter": "datum.snp === 'rs855723'"}, {"regression": "freq", "on": "mortality"}], "mark": {"type": "line", "color": "black", "strokeWidth": 2},
  "encoding": {"x": {"field": "mortality", "type": "quantitative", "title": "Mortality", "scale": {"domain": [7.04, 39.27], "nice": false, "zero": false}, "axis": {"labelOverlap": false, "tickCount": 100, "format": "d", "values": [10,15,20,25,30,35], "labelExpr": "datum.value % 10 !== 0 ? '' : datum.label", "gridWidth": {"condition": {"test": "datum.value % 10 !== 0", "value": 0.7}, "value": 1.1}, "tickOpacity": {"condition": {"test": "datum.value % 10 !== 0", "value": 0}, "value": 1}}},
   "y": {"field": "freq", "type": "quantitative", "title": "rs855723", "scale": {"domain": [0.414, 0.965], "nice": false, "zero": false}, "axis": {"labelOverlap": false, "tickCount": 100, "values": [0.45,0.5,0.55,0.6,0.65,0.7,0.75,0.8,0.85,0.9,0.95], "format": ".1f", "labelExpr": "round(datum.value*100) % 10 !== 0 ? '' : datum.label", "gridWidth": {"condition": {"test": "round(datum.value*100) % 10 !== 0", "value": 0.7}, "value": 1.1}, "tickOpacity": {"condition": {"test": "round(datum.value*100) % 10 !== 0", "value": 0}, "value": 1}}}}},
 {"data": {"name": "pts"}, "transform": [{"filter": "datum.snp === 'rs855723'"}], "mark": {"type": "point", "filled": true, "size": 90, "opacity": 1},
  "encoding": {"x": {"field": "mortality", "type": "quantitative", "title": "Mortality"}, "y": {"field": "freq", "type": "quantitative", "title": "rs855723"},
   "color": {"field": "eth", "type": "nominal", "title": "Ethnicities", "scale": {"domain": ["AFR","AMR","EAS+SAS","EUR"], "range": ["#F2181F","#0F77BB","#12A94B","#A24EA5"]}, "legend": {"orient": "none", "legendX": 298, "legendY": 24}}}},
 {"data": {"name": "ann"}, "transform": [{"filter": "datum.snp === 'rs855723'"}], "mark": {"type": "point", "shape": "M-0.9,-0.347L0.9,-0.347Q1,-0.347 1,-0.247L1,0.247Q1,0.347 0.9,0.347L-0.9,0.347Q-1,0.347 -1,0.247L-1,-0.247Q-1,-0.347 -0.9,-0.347Z", "size": 5929, "filled": true, "fill": "white", "stroke": "black", "strokeWidth": 1, "opacity": 1, "clip": true},
  "encoding": {"x": {"datum": 25, "type": "quantitative", "title": "Mortality"}, "y": {"datum": 0.934, "type": "quantitative", "title": "rs855723"}}},
 {"data": {"name": "ann"}, "transform": [{"filter": "datum.snp === 'rs855723'"}], "mark": {"type": "text", "fontSize": 16, "dy": 2.5, "color": "black"},
  "encoding": {"x": {"datum": 25, "type": "quantitative", "title": "Mortality"}, "y": {"datum": 0.934, "type": "quantitative", "title": "rs855723"}, "text": {"field": "r2"}}},
 {"data": {"name": "ann"}, "transform": [{"filter": "datum.snp === 'rs855723'"}], "mark": {"type": "text", "text": "p", "fontStyle": "italic", "fontSize": 11.5, "align": "right", "dx": -18.5, "color": "black"},
  "encoding": {"x": {"datum": 25, "type": "quantitative", "title": "Mortality"}, "y": {"datum": 0.8446, "type": "quantitative", "title": "rs855723"}}},
 {"data": {"name": "ann"}, "transform": [{"filter": "datum.snp === 'rs855723'"}], "mark": {"type": "text", "fontSize": 11.5, "align": "left", "dx": -15, "color": "black"},
  "encoding": {"x": {"datum": 25, "type": "quantitative", "title": "Mortality"}, "y": {"datum": 0.8446, "type": "quantitative", "title": "rs855723"}, "text": {"field": "p"}}}
]},
{"width": 265, "height": 180, "layer": [
 {"data": {"name": "pts"}, "transform": [{"filter": "datum.snp === 'rs2075109'"}, {"regression": "freq", "on": "mortality"}], "mark": {"type": "line", "color": "black", "strokeWidth": 2},
  "encoding": {"x": {"field": "mortality", "type": "quantitative", "title": "Mortality", "scale": {"domain": [7.04, 39.27], "nice": false, "zero": false}, "axis": {"labelOverlap": false, "tickCount": 100, "format": "d", "values": [10,15,20,25,30,35], "labelExpr": "datum.value % 10 !== 0 ? '' : datum.label", "gridWidth": {"condition": {"test": "datum.value % 10 !== 0", "value": 0.7}, "value": 1.1}, "tickOpacity": {"condition": {"test": "datum.value % 10 !== 0", "value": 0}, "value": 1}}},
   "y": {"field": "freq", "type": "quantitative", "title": "rs2075109", "scale": {"domain": [0.4516, 0.590], "nice": false, "zero": false}, "axis": {"labelOverlap": false, "tickCount": 100, "values": [0.475,0.5,0.525,0.55,0.575], "format": ".2f", "labelExpr": "round(datum.value*1000) % 50 !== 0 ? '' : datum.label", "gridWidth": {"condition": {"test": "round(datum.value*1000) % 50 !== 0", "value": 0.7}, "value": 1.1}, "tickOpacity": {"condition": {"test": "round(datum.value*1000) % 50 !== 0", "value": 0}, "value": 1}}}}},
 {"data": {"name": "pts"}, "transform": [{"filter": "datum.snp === 'rs2075109'"}], "mark": {"type": "point", "filled": true, "size": 90, "opacity": 1},
  "encoding": {"x": {"field": "mortality", "type": "quantitative", "title": "Mortality"}, "y": {"field": "freq", "type": "quantitative", "title": "rs2075109"},
   "color": {"field": "eth", "type": "nominal", "title": "Ethnicities", "scale": {"domain": ["AFR","AMR","EAS+SAS","EUR"], "range": ["#F2181F","#0F77BB","#12A94B","#A24EA5"]}, "legend": {"orient": "none", "legendX": 289, "legendY": 24}}}},
 {"data": {"name": "ann"}, "transform": [{"filter": "datum.snp === 'rs2075109'"}], "mark": {"type": "point", "shape": "M-0.9,-0.347L0.9,-0.347Q1,-0.347 1,-0.247L1,0.247Q1,0.347 0.9,0.347L-0.9,0.347Q-1,0.347 -1,0.247L-1,-0.247Q-1,-0.347 -0.9,-0.347Z", "size": 5929, "filled": true, "fill": "white", "stroke": "black", "strokeWidth": 1, "opacity": 1, "clip": true},
  "encoding": {"x": {"datum": 25, "type": "quantitative", "title": "Mortality"}, "y": {"datum": 0.5824, "type": "quantitative", "title": "rs2075109"}}},
 {"data": {"name": "ann"}, "transform": [{"filter": "datum.snp === 'rs2075109'"}], "mark": {"type": "text", "fontSize": 16, "dy": 2.5, "color": "black"},
  "encoding": {"x": {"datum": 25, "type": "quantitative", "title": "Mortality"}, "y": {"datum": 0.5824, "type": "quantitative", "title": "rs2075109"}, "text": {"field": "r2"}}},
 {"data": {"name": "ann"}, "transform": [{"filter": "datum.snp === 'rs2075109'"}], "mark": {"type": "text", "text": "p", "fontStyle": "italic", "fontSize": 11.5, "align": "right", "dx": -18.5, "color": "black"},
  "encoding": {"x": {"datum": 25, "type": "quantitative", "title": "Mortality"}, "y": {"datum": 0.5583, "type": "quantitative", "title": "rs2075109"}}},
 {"data": {"name": "ann"}, "transform": [{"filter": "datum.snp === 'rs2075109'"}], "mark": {"type": "text", "fontSize": 11.5, "align": "left", "dx": -15, "color": "black"},
  "encoding": {"x": {"datum": 25, "type": "quantitative", "title": "Mortality"}, "y": {"datum": 0.5583, "type": "quantitative", "title": "rs2075109"}, "text": {"field": "p"}}}
]}
]}
],
"config": {
 "font": "Liberation Sans",
 "view": {"stroke": "#b3b3b3", "strokeWidth": 1},
 "axis": {"domain": false, "gridColor": "#e0e0e0", "tickColor": "#b3b3b3", "tickSize": 4, "tickWidth": 1, "labelColor": "#4d4d4d", "labelFontSize": 14, "labelFont": "Liberation Sans", "titleFont": "Liberation Sans", "titleFontSize": 16, "titleFontWeight": "normal", "titleColor": "#1a1a1a", "labelFlush": false, "labelOverlap": false},
 "axisX": {"labelPadding": 5, "titlePadding": 6},
 "axisY": {"labelPadding": 2, "titlePadding": 7, "titleFontSize": 17},
 "legend": {"titleFontSize": 16, "titleFontWeight": "normal", "titleColor": "#1a1a1a", "titleFont": "Liberation Sans", "labelFont": "Liberation Sans", "labelFontSize": 13, "labelColor": "#1a1a1a", "symbolType": "circle", "symbolSize": 85, "symbolOffset": 7, "labelOffset": 12, "rowPadding": 14.4, "titlePadding": 16, "symbolStrokeWidth": 0, "padding": 0}
}
}
